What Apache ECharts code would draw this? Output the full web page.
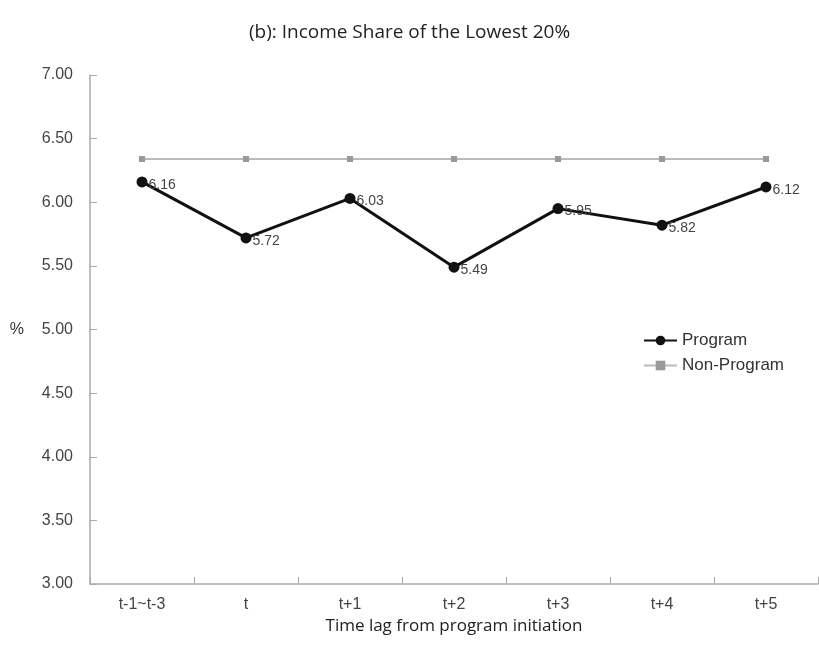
<!DOCTYPE html>
<html><head><meta charset="utf-8">
<script src="https://cdn.jsdelivr.net/npm/echarts@6/dist/echarts.min.js"></script>
<style>html,body{margin:0;padding:0;background:#fff}#c{width:819px;height:658px}</style>
</head><body><div id="c"></div>
<script>
const categories = ['t-1~t-3', 't', 't+1', 't+2', 't+3', 't+4', 't+5'];
const programValues = [6.16, 5.72, 6.03, 5.49, 5.95, 5.82, 6.12];
const nonProgramValues = [6.34, 6.34, 6.34, 6.34, 6.34, 6.34, 6.34];
const yTicks = {min: 3, max: 7, interval: 0.5};

const chart = echarts.init(document.getElementById('c'), null, {renderer: 'canvas'});
const lblFont = 'Liberation Sans';
chart.setOption({
  animation: false,
  backgroundColor: '#fff',
  title: {
    text: '(b): Income Share of the Lowest 20%',
    left: 'center', top: 18,
    textStyle: {fontFamily: 'Open Sans', fontSize: 19, fontWeight: 'normal', color: '#222'}
  },
  grid: {left: 90, right: 1, top: 75, bottom: 74},
  legend: {
    orient: 'vertical', left: 638, top: 327, itemGap: 8, itemWidth: 33, itemHeight: 12,
    textStyle: {fontFamily: lblFont, fontSize: 17, color: '#333'},
    data: ['Program', 'Non-Program']
  },
  xAxis: {
    type: 'category', data: categories, boundaryGap: true,
    name: 'Time lag from program initiation', nameLocation: 'middle', nameGap: 26,
    nameTextStyle: {fontFamily: 'Open Sans', fontSize: 17, color: '#222'},
    axisLine: {show: true, lineStyle: {color: '#aaa', width: 1.5}},
    axisTick: {show: true, inside: true, length: 7, alignWithLabel: false, lineStyle: {color: '#aaa', width: 1}},
    axisLabel: {fontFamily: lblFont, fontSize: 16, color: '#444', margin: 13}
  },
  yAxis: {
    type: 'value', min: yTicks.min, max: yTicks.max, interval: yTicks.interval,
    name: '%', nameLocation: 'middle', nameRotate: 0, nameGap: 66,
    nameTextStyle: {fontFamily: lblFont, fontSize: 16, color: '#333'},
    axisLine: {show: true, lineStyle: {color: '#aaa', width: 1.5}},
    axisTick: {show: true, inside: true, length: 7, lineStyle: {color: '#aaa'}},
    splitLine: {show: false},
    axisLabel: {fontFamily: lblFont, fontSize: 16, color: '#444', margin: 17,
      formatter: v => v.toFixed(2)}
  },
  series: [
    {
      name: 'Program', type: 'line', data: programValues, z: 3,
      symbol: 'circle', symbolSize: 11,
      lineStyle: {color: '#111', width: 3},
      itemStyle: {color: '#111'},
      label: {show: true, position: 'right', distance: 1, offset: [0, 3],
        fontFamily: lblFont, fontSize: 14, color: '#444',
        formatter: p => p.value.toFixed(2)}
    },
    {
      name: 'Non-Program', type: 'line', data: nonProgramValues, z: 2,
      symbol: 'rect', symbolSize: 6,
      lineStyle: {color: '#bbb', width: 2},
      itemStyle: {color: '#999'}
    }
  ]
});
</script></body></html>
